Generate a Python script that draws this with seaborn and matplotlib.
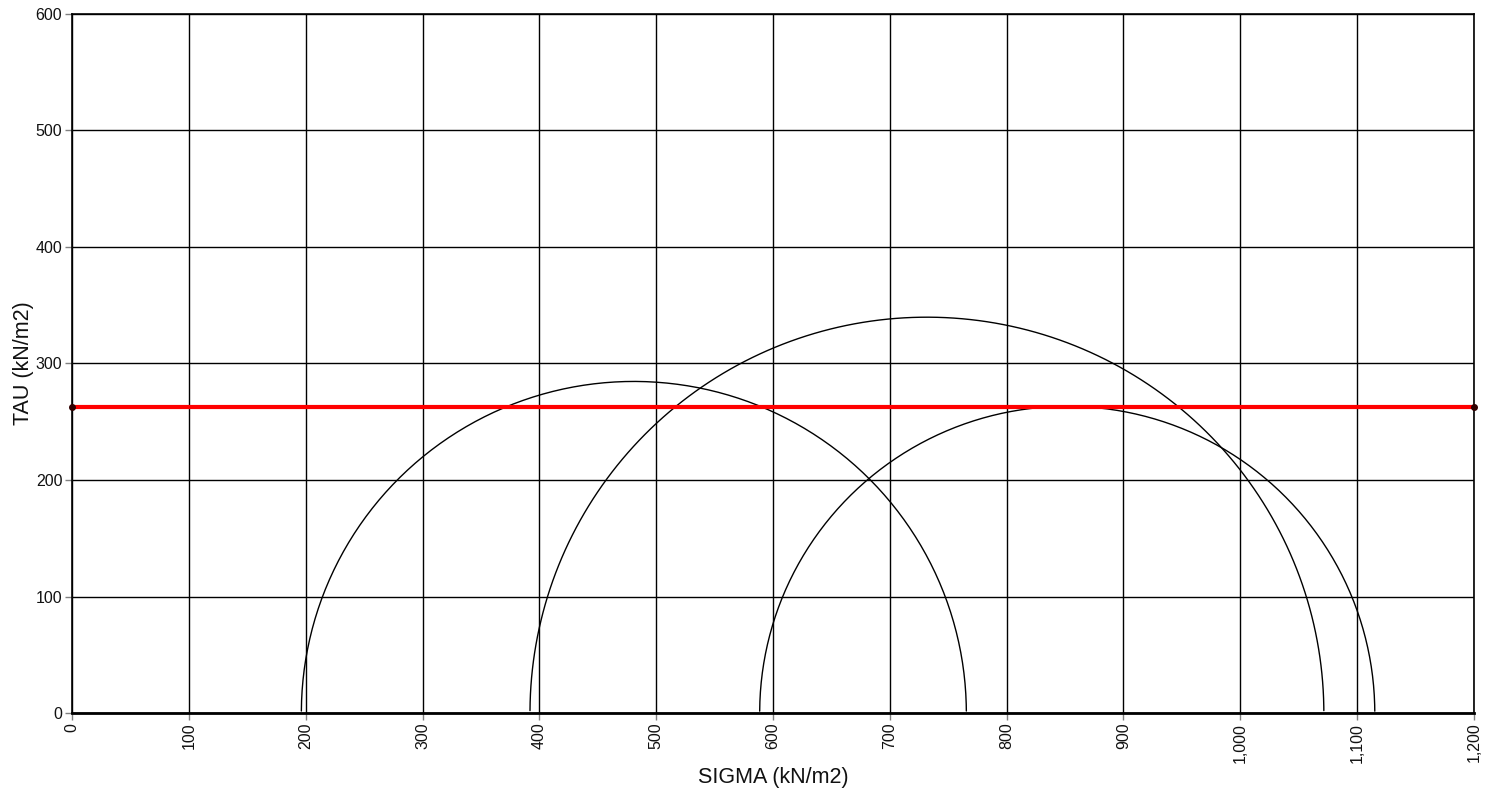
import numpy as np
import pandas as pd
import matplotlib
matplotlib.use('Agg')
import matplotlib.pyplot as plt
import matplotlib.ticker as mticker
import seaborn as sns

# Mohr circles: principal stresses (kN/m2)
sigma_3 = [196.3, 392.0, 588.6]
sigma_1 = [765.5, 1071.5, 1115.1]
tau_line = 262.5          # red horizontal line
x_ticks = [0, 100, 200, 300, 400, 500, 600, 700, 800, 900, 1000, 1100, 1200]
y_ticks = [0, 100, 200, 300, 400, 500, 600]

sns.set_theme(style='white')
plt.rcParams['font.family'] = ['Liberation Sans', 'DejaVu Sans']

fig = plt.figure(figsize=(14.94, 7.94), dpi=100)
ax = fig.add_axes([0.0482, 0.102, 0.9384, 0.8804])

rows = []
for i, (s3, s1) in enumerate(zip(sigma_3, sigma_1)):
    c = (s1 + s3) / 2
    r = (s1 - s3) / 2
    th = np.linspace(np.pi - 0.006, 0.006, 300)
    for t in th:
        rows.append({'circle': i, 'sigma': c + r * np.cos(t), 'tau': r * np.sin(t)})
df = pd.DataFrame(rows)

sns.lineplot(data=df, x='sigma', y='tau', units='circle', estimator=None, sort=False,
             color='black', linewidth=1.0, ax=ax, zorder=3)

line_df = pd.DataFrame({'sigma': [0, 1200], 'tau': [tau_line, tau_line]})
sns.lineplot(data=line_df, x='sigma', y='tau', color='red', linewidth=3, ax=ax, zorder=4)
ax.plot([0, 1200], [tau_line, tau_line], 'o', color='#300000', markersize=4, zorder=5, clip_on=False)

ax.set_xlim(0, 1200)
ax.set_ylim(0, 600)
ax.set_xticks(x_ticks)
ax.set_yticks(y_ticks)
ax.xaxis.set_major_formatter(mticker.FuncFormatter(lambda v, p: f'{int(v):,}'))
ax.grid(True, color='black', linewidth=1.0)
ax.set_axisbelow(True)
for sp in ax.spines.values():
    sp.set_color('black')
    sp.set_linewidth(1.2)
ax.spines['bottom'].set_linewidth(2)
ax.tick_params(axis='both', which='major', direction='out', length=5, width=1, color='#808080',
               labelsize=11.5, labelcolor='#111111', bottom=True, left=True, pad=2)
plt.setp(ax.get_xticklabels(), rotation=90)
ax.set_xlabel('SIGMA (kN/m2)', fontsize=15.5, labelpad=3, color='#111111')
ax.set_ylabel('TAU (kN/m2)', fontsize=15.5, labelpad=1, color='#111111')

fig.savefig('out.png', dpi=100)
